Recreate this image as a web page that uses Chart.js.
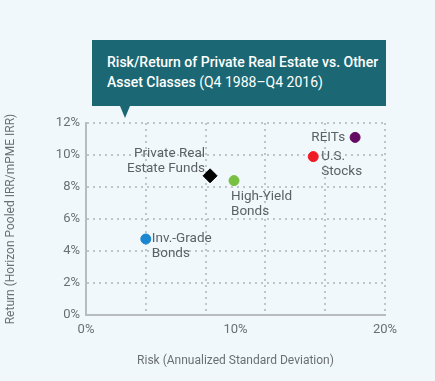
<!DOCTYPE html>
<html>
<head>
<meta charset="utf-8">
<script src="https://cdn.jsdelivr.net/npm/chart.js@4"></script>
<style>
  html, body { margin: 0; padding: 0; background: #f0f8fc; }
  #wrap { position: relative; width: 435px; height: 381px; }
  #title {
    position: absolute; left: 92px; top: 40px; width: 294px; height: 66px;
    background: #1b6874; color: #fff; box-sizing: border-box;
    padding: 12px 0 0 15px; font-family: Roboto, sans-serif; font-size: 14px; line-height: 20px;
  }
  #title b { font-weight: 500; }
  #title::after {
    content: ''; position: absolute; left: 28px; top: 66px;
    border-left: 5px solid transparent; border-right: 5px solid transparent;
    border-top: 12px solid #1b6874;
  }
</style>
</head>
<body>
<div id="wrap">
  <canvas id="chart" width="435" height="381"></canvas>
  <div id="title"><b>Risk/Return of Private Real Estate vs. Other Asset Classes</b> (Q4 1988–Q4 2016)</div>
</div>
<script>
// asset classes
const names = ['Inv.-Grade Bonds', 'Private Real Estate Funds', 'High-Yield Bonds', 'U.S. Stocks', 'REITs'];
const labelLines = [['Inv.-Grade', 'Bonds'], ['Private Real', 'Estate Funds'], ['High-Yield', 'Bonds'], ['U.S.', 'Stocks'], ['REITs']];
// risk (annualized std dev, %) and return (%)
const risk = [4.0, 8.3, 9.9, 15.2, 18.0];
const returns = [4.75, 8.7, 8.4, 9.9, 11.1];
const xTicks = [0, 10, 20];
const xGrid = [0, 4, 8, 12, 16, 20];
const yTicks = [0, 2, 4, 6, 8, 10, 12];

const colors = ['#1a86cf', '#000000', '#77c043', '#ee1d25', '#650a63'];
const shapes = ['circle', 'rectRot', 'circle', 'circle', 'circle'];
const radii = [5, 7, 5, 5, 5];

// where each label sits relative to its point: [dx, dy of first line, align]
const labelPos = [[6, 0, 'left'], [-5, -22, 'right'], [-3, 16, 'left'], [8, 0, 'left'], [-10, 0, 'right']];

const pointLabels = {
  id: 'pointLabels',
  afterDatasetsDraw(chart) {
    const ctx = chart.ctx;
    const meta = chart.getDatasetMeta(0);
    ctx.save();
    ctx.font = '13.5px Roboto, sans-serif';
    ctx.fillStyle = '#5c6166';
    ctx.textBaseline = 'middle';
    meta.data.forEach((pt, i) => {
      const [dx, dy, align] = labelPos[i];
      ctx.textAlign = align;
      labelLines[i].forEach((line, j) => {
        ctx.fillText(line, pt.x + dx, pt.y + dy + j * 15);
      });
    });
    ctx.restore();
  }
};

const gridColor = '#c0c5ca';
const gridDash = [2, 4];
const tickFont = { family: 'Roboto, sans-serif', size: 13 };
const titleFont = { family: 'Roboto, sans-serif', size: 12 };

new Chart(document.getElementById('chart'), {
  type: 'scatter',
  data: {
    datasets: [{
      label: 'Assets',
      data: risk.map((r, i) => ({ x: r, y: returns[i] })),
      xAxisID: 'x',
      backgroundColor: colors,
      borderColor: colors,
      pointStyle: shapes,
      pointRadius: radii,
      pointHoverRadius: radii
    }]
  },
  options: {
    responsive: false,
    animation: false,
    layout: { padding: { left: 0, right: 50, top: 123, bottom: 13 } },
    plugins: { legend: { display: false } },
    scales: {
      // grid-only axis (every 4%)
      xg: {
        type: 'linear', position: 'bottom', min: 0, max: 20, weight: 1,
        afterBuildTicks: s => { s.ticks = xGrid.map(v => ({ value: v })); },
        ticks: { display: false, padding: 0 },
        grid: { drawTicks: false, color: gridColor, lineWidth: 2 },
        border: { display: false, dash: gridDash }
      },
      x: {
        type: 'linear', position: 'bottom', min: 0, max: 20, weight: 0,
        afterBuildTicks: s => { s.ticks = xTicks.map(v => ({ value: v })); },
        ticks: {
          autoSkip: false, maxRotation: 0, padding: 7,
          color: '#6b6f73', font: tickFont,
          callback: v => v + '%'
        },
        grid: { display: false, drawTicks: false },
        border: { display: true, color: '#b8bcc0', width: 2 },
        title: {
          display: true, text: 'Risk (Annualized Standard Deviation)',
          color: '#6b6f73', font: titleFont, padding: { top: 9, bottom: 0 }
        }
      },
      y: {
        min: 0, max: 12,
        afterFit: s => { s.width = 86; },
        afterBuildTicks: s => { s.ticks = yTicks.map(v => ({ value: v })); },
        ticks: {
          padding: 6, color: '#6b6f73', font: tickFont,
          callback: v => v + '%'
        },
        grid: { drawTicks: false, color: gridColor, lineWidth: 2 },
        border: { display: true, color: '#b8bcc0', width: 2, dash: gridDash },
        title: {
          display: true, text: 'Return (Horizon Pooled IRR/mPME IRR)',
          color: '#6b6f73', font: titleFont, padding: { bottom: 4 }
        }
      }
    }
  },
  plugins: [pointLabels]
});
</script>
</body>
</html>
